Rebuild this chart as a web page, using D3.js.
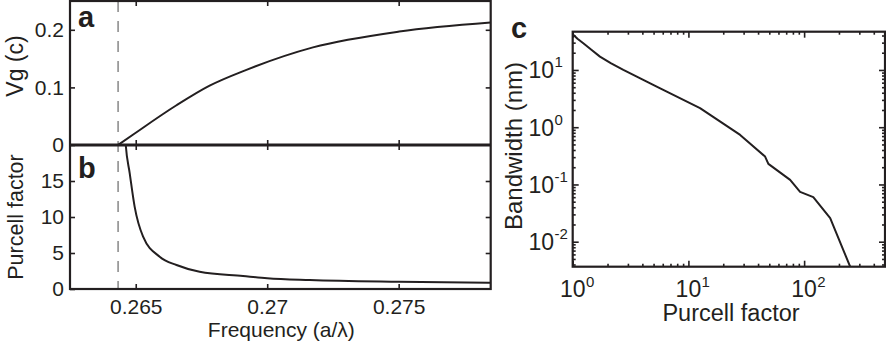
<!DOCTYPE html>
<html><head><meta charset="utf-8">
<script src="https://cdn.jsdelivr.net/npm/d3@7"></script>
<style>
body{margin:0;background:#fff}
svg{display:block}
text{font-family:"Liberation Sans",Arial,Helvetica,sans-serif;fill:#231f20}
</style>
</head><body>
<svg id="chart" width="886" height="347"></svg>
<script>
// ---------- data ----------
const freqTicks = [0.265, 0.27, 0.275];
const vgTicks = [0, 0.1, 0.2];
const pfTicks = [0, 5, 10, 15];
const cutoffFreq = 0.26433;

const vgFreq   = [0.26433, 0.26496, 0.26655, 0.26781, 0.26921, 0.27174, 0.27502, 0.27850];
const vgValues = [0,       0.020,   0.069,   0.103,   0.1305,  0.1695,  0.197,   0.2126];

const pfFreq   = [0.26455, 0.26462, 0.26477, 0.26496, 0.26528, 0.26591, 0.26655, 0.26743, 0.26908, 0.2700, 0.27162, 0.27500, 0.27850];
const pfValues = [24,      20,      16.1,    11.4,    7.26,    4.49,    3.33,    2.40,    1.81,    1.50,   1.25,    1.01,    0.875];

const purcellC   = [1.0,  1.1,  1.235, 1.45, 1.72, 2.15, 2.74, 5.32, 12.6, 28.0,  46.0,  49.1,  75.7,  92.3,   120,   168,    250];
const bandwidthC = [42,   35,   29.2,  22.5, 17.1, 13.0, 10.0, 5.12, 2.15, 0.734, 0.307, 0.229, 0.120, 0.0744, 0.060, 0.0258, 0.00366];

const logXTicks = [1, 10, 100];
const logXExp   = ["0", "1", "2"];
const logYTicks = [0.01, 0.1, 1, 10];
const logYExp   = ["-2", "-1", "0", "1"];

// ---------- setup ----------
const svg = d3.select("#chart");
const ink = "#231f20";

// Panels a/b
const L = 70, R = 490.7, Ta = 1, Ma = 145, Bb = 289;
const x  = d3.scaleLinear([0.2625, 0.2785], [L, R]);
const ya = d3.scaleLinear([0, 0.25], [Ma, Ta]);
const yb = d3.scaleLinear([0, 20], [Bb, Ma]);

const defs = svg.append("defs");
defs.append("clipPath").attr("id","clipA").append("rect").attr("x",L).attr("y",Ta).attr("width",R-L).attr("height",Ma-Ta);
defs.append("clipPath").attr("id","clipB").append("rect").attr("x",L).attr("y",Ma).attr("width",R-L).attr("height",Bb-Ma);

// dashed cutoff line
svg.append("line")
  .attr("x1", x(cutoffFreq)).attr("x2", x(cutoffFreq))
  .attr("y1", Ta).attr("y2", Bb)
  .attr("stroke", "#9a9a9a").attr("stroke-width", 1.8)
  .attr("stroke-dasharray", "11,9");

// curves
svg.append("path")
  .datum(vgFreq.map((f,i)=>[f, vgValues[i]]))
  .attr("clip-path","url(#clipA)")
  .attr("fill","none").attr("stroke",ink).attr("stroke-width",2)
  .attr("d", d3.line().x(d=>x(d[0])).y(d=>ya(d[1])).curve(d3.curveMonotoneX));

svg.append("path")
  .datum(pfFreq.map((f,i)=>[f, pfValues[i]]))
  .attr("clip-path","url(#clipB)")
  .attr("fill","none").attr("stroke",ink).attr("stroke-width",2)
  .attr("d", d3.line().x(d=>x(d[0])).y(d=>yb(d[1])).curve(d3.curveMonotoneX));

function styleAxis(g, fs){
  g.select(".domain").remove();
  g.selectAll(".tick line").attr("stroke", ink).attr("stroke-width", 1.6);
  g.selectAll(".tick text").attr("fill", ink).style("font-size", fs+"px")
   .style("font-family", '"Liberation Sans",Arial,sans-serif');
}
const tk = 5, fsT = 21;
// panel a axes
svg.append("g").attr("transform",`translate(0,${Ta})`)
  .call(d3.axisTop(x).tickValues(freqTicks).tickSize(-tk).tickFormat("")).call(g=>styleAxis(g,fsT));
svg.append("g").attr("transform",`translate(0,${Ma})`)
  .call(d3.axisBottom(x).tickValues(freqTicks).tickSize(-tk).tickFormat("")).call(g=>styleAxis(g,fsT));
svg.append("g").attr("transform",`translate(${L},0)`)
  .call(d3.axisLeft(ya).tickValues(vgTicks).tickSize(-tk).tickPadding(6).tickFormat(d=>d===0?"0":d3.format(".1f")(d)))
  .call(g=>styleAxis(g,fsT));
svg.append("g").attr("transform",`translate(${R},0)`)
  .call(d3.axisRight(ya).tickValues(vgTicks.filter(v=>v>0)).tickSize(-tk).tickFormat("")).call(g=>styleAxis(g,fsT));
// panel b axes
svg.append("g").attr("transform",`translate(0,${Ma})`)
  .call(d3.axisTop(x).tickValues(freqTicks).tickSize(-tk).tickFormat("")).call(g=>styleAxis(g,fsT));
svg.append("g").attr("transform",`translate(0,${Bb})`)
  .call(d3.axisBottom(x).tickValues(freqTicks).tickSize(-tk).tickPadding(10).tickFormat(d=>String(d)))
  .call(g=>styleAxis(g,fsT));
svg.append("g").attr("transform",`translate(${L},0)`)
  .call(d3.axisLeft(yb).tickValues(pfTicks).tickSize(-tk).tickPadding(6))
  .call(g=>styleAxis(g,fsT));
svg.append("g").attr("transform",`translate(${R},0)`)
  .call(d3.axisRight(yb).tickValues(pfTicks.filter(v=>v>0)).tickSize(-tk).tickFormat("")).call(g=>styleAxis(g,fsT));

// frames
svg.append("rect").attr("x",L).attr("y",Ta).attr("width",R-L).attr("height",Bb-Ta)
  .attr("fill","none").attr("stroke",ink).attr("stroke-width",2.2);
svg.append("line").attr("x1",L).attr("x2",R).attr("y1",Ma).attr("y2",Ma)
  .attr("stroke",ink).attr("stroke-width",3);

// labels a/b
svg.append("text").attr("transform","translate(23,66) rotate(-90)").attr("text-anchor","middle")
  .style("font-size","23px").text("Vg (c)");
svg.append("text").attr("transform","translate(23,217) rotate(-90)").attr("text-anchor","middle")
  .style("font-size","21.5px").text("Purcell factor");
svg.append("text").attr("x",(L+R)/2+1).attr("y",337).attr("text-anchor","middle")
  .style("font-size","21px").text("Frequency (a/λ)");
svg.append("text").attr("x",78).attr("y",27).style("font-size","29px").style("font-weight","bold").text("a");
svg.append("text").attr("x",78).attr("y",178).style("font-size","29px").style("font-weight","bold").text("b");

// ---------- panel c ----------
const cL = 572.7, cR = 885, cT = 31.7, cB = 266.7;
const xc = d3.scaleLog([1, 500], [cL, cR]);
const yc = d3.scaleLog([0.00366, 46.6], [cB, cT]);
defs.append("clipPath").attr("id","clipC").append("rect").attr("x",cL).attr("y",cT).attr("width",cR-cL).attr("height",cB-cT);

svg.append("path")
  .datum(purcellC.map((p,i)=>[p, bandwidthC[i]]))
  .attr("clip-path","url(#clipC)")
  .attr("fill","none").attr("stroke",ink).attr("stroke-width",2).attr("stroke-linejoin","round")
  .attr("d", d3.line().x(d=>xc(d[0])).y(d=>yc(d[1])));

const xMinor = [], yMinor = [];
for (let e=0;e<=2;e++) for (let m=2;m<=9;m++){ const v=m*10**e; if (v<500) xMinor.push(v); }
for (let e=-3;e<=1;e++) for (let m=2;m<=9;m++){ const v=m*10**e; if (v>0.00366 && v<46.6) yMinor.push(v); }

function ticksC(g, axisFn, scale, vals, size){
  g.call(axisFn(scale).tickValues(vals).tickSize(-size).tickFormat("")).call(gg=>styleAxis(gg,20));
}
[[`translate(0,${cT})`, d3.axisTop], [`translate(0,${cB})`, d3.axisBottom]].forEach(([t,f])=>{
  svg.append("g").attr("transform",t).call(g=>ticksC(g,f,xc,logXTicks,6));
  svg.append("g").attr("transform",t).call(g=>ticksC(g,f,xc,xMinor,3));
});
[[`translate(${cL},0)`, d3.axisLeft], [`translate(${cR},0)`, d3.axisRight]].forEach(([t,f])=>{
  svg.append("g").attr("transform",t).call(g=>ticksC(g,f,yc,logYTicks,6));
  svg.append("g").attr("transform",t).call(g=>ticksC(g,f,yc,yMinor,3));
});
svg.append("rect").attr("x",cL).attr("y",cT).attr("width",cR-cL).attr("height",cB-cT)
  .attr("fill","none").attr("stroke",ink).attr("stroke-width",2.2);

// tick labels c
const xl = svg.append("g");
logXTicks.forEach((v,i)=>{
  xl.append("text").attr("x",xc(v)).attr("y",297).attr("text-anchor","middle").style("font-size","23px").text("10");
  xl.append("text").attr("x",xc(v)+13.2).attr("y",287).style("font-size","15px").text(logXExp[i]);
});
const yl = svg.append("g");
logYTicks.forEach((v,i)=>{
  yl.append("text").attr("x",528.5).attr("y",yc(v)+8.5).style("font-size","23px").text("10");
  yl.append("text").attr("x",554.5).attr("y",yc(v)-2.5).style("font-size","15px").text(logYExp[i]);
});
svg.append("text").attr("transform","translate(522,146) rotate(-90)").attr("text-anchor","middle")
  .style("font-size","24px").text("Bandwidth (nm)");
svg.append("text").attr("x",731).attr("y",321).attr("text-anchor","middle")
  .style("font-size","23.5px").text("Purcell factor");
svg.append("text").attr("x",511).attr("y",38).style("font-size","29px").style("font-weight","bold").text("c");
</script>
</body></html>
